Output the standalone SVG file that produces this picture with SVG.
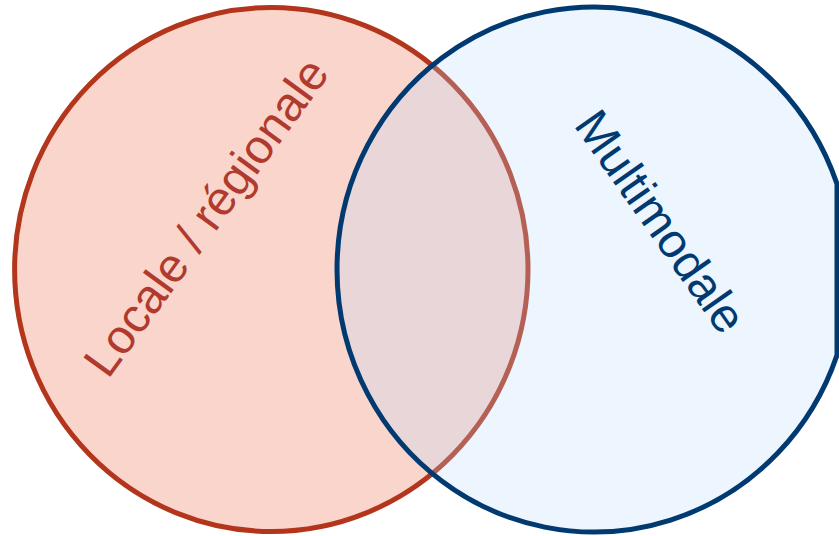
<svg xmlns="http://www.w3.org/2000/svg" width="839" height="536" viewBox="0 0 839 536">
<style>
.lbl{font-family:"Liberation Sans",Arial,sans-serif;font-size:48px}
</style>
<rect width="839" height="536" fill="#ffffff"/>
<g id="locale">
<ellipse cx="271.3" cy="269.5" rx="256.7" ry="262" fill="#fad5cc" stroke="#b3361c" stroke-width="5"/>
<text class="lbl" fill="#b03a2e" transform="translate(108,380) rotate(-54)">Locale / régionale</text>
</g>
<g id="multimodale">
<path d="M837,184 A257,262.5 0 1 0 837,355 Z" fill="#bad9fb" fill-opacity="0.26" stroke="#003a70" stroke-width="5"/>
<text class="lbl" fill="#003a70" transform="translate(573,125) rotate(55)">Multimodale</text>
</g>
<g id="connectors"/>
</svg>
